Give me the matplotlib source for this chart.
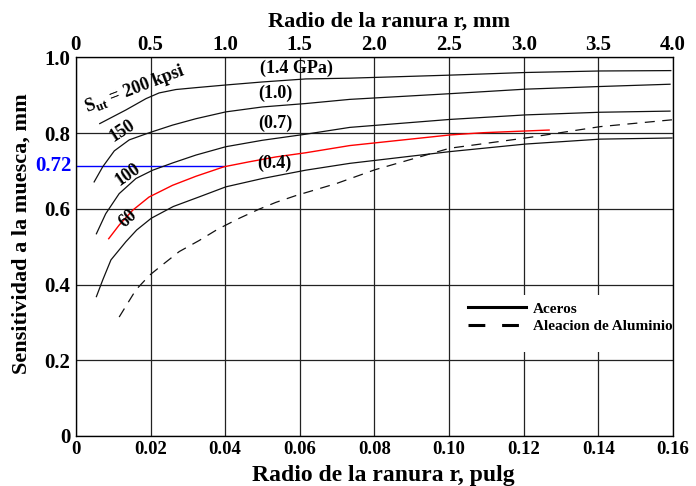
import matplotlib
matplotlib.use("Agg")
import matplotlib.pyplot as plt
from matplotlib.lines import Line2D
from matplotlib.patches import Rectangle

plt.rcParams['font.family'] = ['Liberation Serif', 'DejaVu Serif']
plt.rcParams['font.weight'] = 'bold'
plt.rcParams['mathtext.fontset'] = 'custom'
plt.rcParams['mathtext.rm'] = 'Liberation Serif:bold'
plt.rcParams['mathtext.bf'] = 'Liberation Serif:bold'

# Data (notch radius in inches, notch sensitivity q)
r_200 = [0.0064, 0.0134, 0.0188, 0.0223, 0.0268, 0.0322, 0.0402, 0.0500, 0.0616, 0.0734, 0.1002, 0.1205, 0.1405, 0.1594]
q_200 = [0.825, 0.861, 0.891, 0.906, 0.915, 0.920, 0.927, 0.935, 0.943, 0.945, 0.953, 0.960, 0.964, 0.965]

r_150 = [0.0049, 0.0072, 0.0103, 0.0143, 0.0197, 0.0259, 0.0322, 0.0402, 0.0500, 0.0616, 0.0734, 0.1002, 0.1205, 0.1405, 0.1592]
q_150 = [0.671, 0.711, 0.753, 0.782, 0.801, 0.821, 0.838, 0.856, 0.869, 0.878, 0.889, 0.904, 0.916, 0.923, 0.929]

r_100 = [0.0055, 0.0080, 0.0116, 0.0161, 0.0206, 0.0259, 0.0322, 0.0402, 0.0500, 0.0616, 0.0734, 0.1002, 0.1205, 0.1405, 0.1592]
q_100 = [0.534, 0.587, 0.640, 0.680, 0.702, 0.721, 0.742, 0.764, 0.781, 0.797, 0.815, 0.836, 0.848, 0.855, 0.858]

r_60 = [0.0088, 0.0116, 0.0152, 0.0196, 0.0259, 0.0322, 0.0397, 0.0464, 0.0536, 0.0616, 0.0734, 0.1002, 0.1092, 0.1268]
q_60 = [0.521, 0.557, 0.596, 0.631, 0.662, 0.686, 0.711, 0.724, 0.737, 0.748, 0.767, 0.795, 0.801, 0.808]

r_04 = [0.0055, 0.0072, 0.0094, 0.0134, 0.0163, 0.0202, 0.0261, 0.0332, 0.0402, 0.0500, 0.0616, 0.0734, 0.1002, 0.1205, 0.1405, 0.1597]
q_04 = [0.368, 0.412, 0.465, 0.513, 0.544, 0.575, 0.606, 0.632, 0.658, 0.680, 0.702, 0.720, 0.751, 0.771, 0.784, 0.787]

r_al = [0.0116, 0.0161, 0.0198, 0.0232, 0.0277, 0.0330, 0.0380, 0.0438, 0.0491, 0.0536, 0.0590, 0.0699, 0.0801, 0.1002, 0.1205, 0.1405, 0.1597]
q_al = [0.314, 0.386, 0.425, 0.452, 0.487, 0.516, 0.546, 0.575, 0.599, 0.617, 0.635, 0.667, 0.703, 0.760, 0.787, 0.817, 0.835]

q_mark = 0.712
r_mark = 0.0397

x_ticks = [0, 0.02, 0.04, 0.06, 0.08, 0.10, 0.12, 0.14, 0.16]
x_labels = ['0', '0.02', '0.04', '0.06', '0.08', '0.10', '0.12', '0.14', '0.16']
mm_labels = ['0', '0.5', '1.0', '1.5', '2.0', '2.5', '3.0', '3.5', '4.0']
y_ticks = [0, 0.2, 0.4, 0.6, 0.8, 1.0]
y_labels = ['0', '0.2', '0.4', '0.6', '0.8', '1.0']

fig = plt.figure(figsize=(6.96, 4.86), dpi=100)
ax = fig.add_axes([0.109, 0.103, 0.858, 0.779])
ax.set_xlim(0, 0.16)
ax.set_ylim(0, 1.0)

for xt in x_ticks:
    ax.axvline(xt, color='#222222', lw=0.9, zorder=1)
for yt in y_ticks:
    ax.axhline(yt, color='#222222', lw=0.9, zorder=1)

curve_color = '#111111'
ax.plot(r_200, q_200, color=curve_color, lw=0.9, zorder=3)
ax.plot(r_150, q_150, color=curve_color, lw=0.9, zorder=3)
ax.plot(r_100, q_100, color=curve_color, lw=0.9, zorder=3)
ax.plot(r_60, q_60, color='red', lw=1.0, zorder=3)
ax.plot(r_04, q_04, color=curve_color, lw=0.9, zorder=3)
ax.plot(r_al, q_al, color=curve_color, lw=0.9, ls=(0, (8, 6)), zorder=3)
ax.plot([0, r_mark], [q_mark, q_mark], color='blue', lw=1.0, zorder=2)

ax.set_xticks(x_ticks)
ax.set_xticklabels(x_labels)
ax.set_yticks(y_ticks)
ax.set_yticklabels(y_labels)
ax.tick_params(axis='x', length=0, labelsize=13.5, pad=4)
ax.tick_params(axis='y', length=0, labelsize=15, pad=4)
ax.text(-0.0012, q_mark, '0.72', color='blue', fontsize=15, fontweight='bold',
        ha='right', va='center', transform=ax.transData)
for s in ax.spines.values():
    s.set_linewidth(0.9)

ax.set_xlabel('Radio de la ranura r, pulg', fontsize=17, fontweight='bold')
ax.xaxis.set_label_coords(0.515, -0.078)
ax.set_ylabel('Sensitividad a la muesca, mm', fontsize=16, fontweight='bold')
ax.yaxis.set_label_coords(-0.074, 0.535)

top = ax.twiny()
top.set_xlim(0, 0.16)
top.set_xticks(x_ticks)
top.set_xticklabels(mm_labels)
top.tick_params(length=0, labelsize=15, pad=2)
top.set_xlabel('Radio de la ranura r, mm', fontsize=16, fontweight='bold')
top.xaxis.set_label_coords(0.525, 1.08)

lab_kw = dict(fontsize=13, fontweight='bold', ha='center', va='center', zorder=4)
ax.text(0.0158, 0.9155, r'S$_{\mathbf{ut}}$ = 200 kpsi', rotation=21, **lab_kw)
ax.text(0.0125, 0.807, '150', rotation=33, **lab_kw)
ax.text(0.0139, 0.689, '100', rotation=35, **lab_kw)
ax.text(0.0139, 0.574, '60', rotation=42, **lab_kw)
ax.text(0.0592, 0.970, '(1.4 GPa)', **lab_kw)
ax.text(0.0535, 0.906, '(1.0)', **lab_kw)
ax.text(0.0535, 0.825, '(0.7)', **lab_kw)
ax.text(0.0533, 0.721, '(0.4)', **lab_kw)

# white background behind the legend
ax.add_patch(Rectangle((0.635, 0.222), 0.362, 0.151, transform=ax.transAxes,
                       facecolor='white', edgecolor='none', zorder=4))
handles = [Line2D([], [], color='black', lw=2.2),
           Line2D([], [], color='black', lw=2.2, ls=(0, (5.5, 5.5)))]
leg = ax.legend(handles, ['Aceros', 'Aleacion de Aluminio'], loc='center right',
                bbox_to_anchor=(0.999, 0.313), frameon=False,
                prop={'family': 'Liberation Serif', 'weight': 'bold', 'size': 11},
                handlelength=3.8, handletextpad=0.45, labelspacing=0.25,
                borderpad=0, borderaxespad=0)
leg.set_zorder(5)

fig.savefig('out.png', dpi=100)
